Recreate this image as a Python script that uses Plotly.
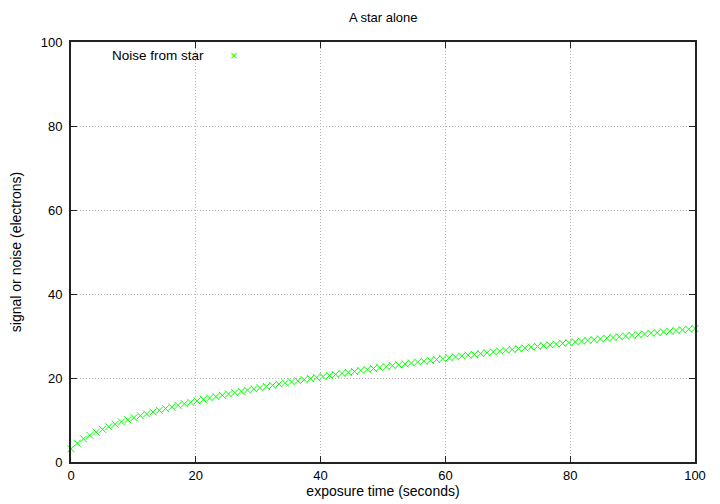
import plotly.graph_objects as go

exposure_time = [0, 1.01, 2.02, 3.03, 4.04, 5.05, 6.06, 7.07, 8.08, 9.09,
                 10.1, 11.11, 12.12, 13.13, 14.14, 15.15, 16.16, 17.17, 18.18, 19.19,
                 20.2, 21.21, 22.22, 23.23, 24.24, 25.25, 26.26, 27.27, 28.28, 29.29,
                 30.3, 31.31, 32.32, 33.33, 34.34, 35.35, 36.36, 37.37, 38.38, 39.39,
                 40.4, 41.41, 42.42, 43.43, 44.44, 45.45, 46.46, 47.47, 48.48, 49.49,
                 50.51, 51.52, 52.53, 53.54, 54.55, 55.56, 56.57, 57.58, 58.59, 59.6,
                 60.61, 61.62, 62.63, 63.64, 64.65, 65.66, 66.67, 67.68, 68.69, 69.7,
                 70.71, 71.72, 72.73, 73.74, 74.75, 75.76, 76.77, 77.78, 78.79, 79.8,
                 80.81, 81.82, 82.83, 83.84, 84.85, 85.86, 86.87, 87.88, 88.89, 89.9,
                 90.91, 91.92, 92.93, 93.94, 94.95, 95.96, 96.97, 97.98, 98.99, 100]

noise_from_star = [3.16, 4.48, 5.50, 6.35, 7.10, 7.78, 8.40, 8.98, 9.53, 10.05,
                   10.54, 11.01, 11.45, 11.89, 12.30, 12.71, 13.10, 13.48, 13.85, 14.21,
                   14.56, 14.90, 15.24, 15.57, 15.89, 16.20, 16.51, 16.81, 17.11, 17.40,
                   17.69, 17.98, 18.25, 18.53, 18.80, 19.07, 19.33, 19.59, 19.85, 20.10,
                   20.35, 20.59, 20.84, 21.08, 21.32, 21.55, 21.79, 22.02, 22.25, 22.47,
                   22.69, 22.92, 23.14, 23.35, 23.57, 23.78, 23.99, 24.20, 24.41, 24.62,
                   24.82, 25.02, 25.22, 25.42, 25.62, 25.82, 26.01, 26.21, 26.40, 26.59,
                   26.78, 26.97, 27.15, 27.34, 27.52, 27.71, 27.89, 28.07, 28.25, 28.43,
                   28.60, 28.78, 28.95, 29.13, 29.30, 29.47, 29.64, 29.81, 29.98, 30.15,
                   30.32, 30.48, 30.65, 30.81, 30.98, 31.14, 31.30, 31.46, 31.62, 31.78]

x_ticks = [0, 20, 40, 60, 80, 100]
y_ticks = [0, 20, 40, 60, 80, 100]

GREEN = "#00ff00"
FONT = "Liberation Sans, Arial, sans-serif"

fig = go.Figure()
fig.add_trace(go.Scatter(
    x=exposure_time, y=noise_from_star, mode="markers", name="Noise from star",
    marker=dict(symbol="x-thin", size=7, color=GREEN, line=dict(color=GREEN, width=1)),
    showlegend=False, cliponaxis=False,
))

axis_common = dict(
    showline=True, linecolor="#222222", linewidth=2, mirror="ticks",
    ticks="inside", ticklen=6, tickcolor="#222222", tickwidth=1,
    showgrid=True, gridcolor="#b4b4b4", griddash="1px,2px", gridwidth=1,
    zeroline=False, automargin=False,
    tickfont=dict(size=13, color="black", family=FONT),
)

# the page body adds an 8px offset, so the figure is 8px smaller and margins shifted
fig.update_layout(
    width=712, height=496,
    margin=dict(l=63, r=25, t=34, b=42),
    paper_bgcolor="white", plot_bgcolor="white",
    font=dict(family=FONT, size=13, color="black"),
    title=dict(text="A star alone", x=0.527, xanchor="center", y=0.980, yanchor="middle",
               font=dict(size=13, family=FONT)),
    xaxis=dict(range=[0, 100], tickvals=x_ticks,
               title=dict(text="exposure time (seconds)", standoff=3, font=dict(size=14)),
               **axis_common),
    yaxis=dict(range=[0, 100], tickvals=y_ticks, ticklabelstandoff=4,
               title=dict(text="signal or noise (electrons)", standoff=20, font=dict(size=14)),
               **axis_common),
    annotations=[
        dict(text="Noise from star", xref="paper", yref="paper", x=0.216, y=0.967,
             xanchor="right", yanchor="middle", showarrow=False, font=dict(size=13.5)),
        dict(text="×", xref="paper", yref="paper", x=0.261, y=0.967,
             xanchor="center", yanchor="middle", showarrow=False,
             font=dict(size=13, color=GREEN)),
    ],
)

fig.write_html("out.html")
